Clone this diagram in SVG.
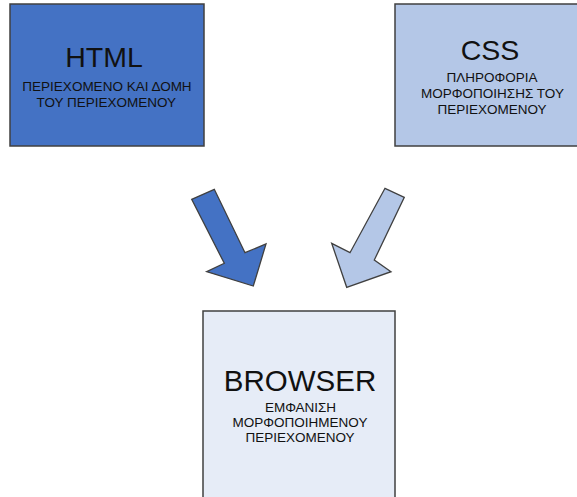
<svg xmlns="http://www.w3.org/2000/svg" width="577" height="497" viewBox="0 0 577 497">
<style>
.box{stroke:#404040;stroke-width:1.5}
.arr{stroke:#404040;stroke-width:1.3;stroke-linejoin:miter}
text{font-family:"Liberation Sans",Arial,sans-serif;fill:#111;text-anchor:middle}
.t{font-size:28.5px}
.s{font-size:13.5px}
</style>
<rect width="577" height="497" fill="#ffffff"/>
<g id="html">
<rect class="box" x="10" y="4" width="194" height="142" fill="#4472c4"/>
<text class="t" x="104" y="67">HTML</text>
<text class="s" x="107" y="90.7">ΠΕΡΙΕΧΟΜΕΝΟ ΚΑΙ ΔΟΜΗ</text>
<text class="s" x="106.3" y="106.5">ΤΟΥ ΠΕΡΙΕΧΟΜΕΝΟΥ</text>
</g>
<g id="css">
<rect class="box" x="395" y="4" width="200" height="142" fill="#b4c7e7"/>
<text class="t" x="490" y="60">CSS</text>
<text class="s" x="492" y="82">ΠΛΗΡΟΦΟΡΙΑ</text>
<text class="s" x="492.5" y="98">ΜΟΡΦΟΠΟΙΗΣΗΣ ΤΟΥ</text>
<text class="s" x="492" y="114">ΠΕΡΙΕΧΟΜΕΝΟΥ</text>
</g>
<g id="browser">
<rect class="box" x="203" y="311" width="192" height="200" fill="#e6ecf7"/>
<text class="t" x="300" y="390.5" style="font-size:29.5px">BROWSER</text>
<text class="s" x="300.5" y="411.7">ΕΜΦΑΝΙΣΗ</text>
<text class="s" x="300" y="426.7">ΜΟΡΦΟΠΟΙΗΜΕΝΟΥ</text>
<text class="s" x="300" y="441.7">ΠΕΡΙΕΧΟΜΕΝΟΥ</text>
</g>
<g id="connectors">
<polygon class="arr" fill="#4472c4" points="191.7,199.3 214.3,189.3 245,252.7 266,244 253.3,286 206.7,271.7 224.3,263.3"/>
<polygon class="arr" fill="#b4c7e7" points="404.3,197.3 385,188.3 350,252.7 331.7,243.3 346.7,287.3 391,271.7 374.3,260"/>
</g>
</svg>
